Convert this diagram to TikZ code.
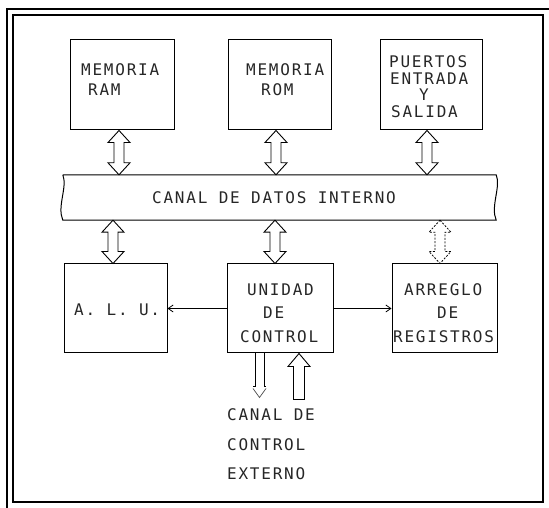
\documentclass[tikz,border=0pt]{standalone}
\usepackage{fontspec}
\newfontfamily\plotfont[LetterSpace=11]{DejaVu Sans Mono}
\usetikzlibrary{arrows.meta,calc}
\newcommand\dblarrow[3][]{%
  \draw[hollow,#1] let \p1=(#2), \p2=(#3) in
   (\x1,\y1) -- (\x1+11pt,\y1-12pt) -- (\x1+5pt,\y1-12pt) -- (\x1+5pt,\y2+12pt)
   -- (\x1+11pt,\y2+12pt) -- (\x1,\y2) -- (\x1-11pt,\y2+12pt) -- (\x1-5pt,\y2+12pt)
   -- (\x1-5pt,\y1-12pt) -- (\x1-11pt,\y1-12pt) -- cycle;}
\begin{document}
\begin{tikzpicture}[x=1pt,y=1pt,
  box/.style={draw,line width=1pt,inner sep=0pt},
  txt/.style={font=\plotfont\fontsize{16}{19}\selectfont,text=black!85,inner sep=0pt,anchor=base west},
  hollow/.style={line width=0.9pt,line join=miter},
  harrow/.style={line width=0.8pt,-{Straight Barb[length=5pt,width=7pt]}}]
\useasboundingbox (0,0) rectangle (549,508);
% frame
\draw[line width=1.3pt] (13,493) rectangle (543,6);
\draw[line width=2pt] (7,0) -- (7,499) -- (549,499);
% boxes
\node[box,minimum width=104pt,minimum height=90pt] (ram) at (122,423) {};
\node[box,minimum width=103pt,minimum height=90pt] (rom) at (279.5,423) {};
\node[box,minimum width=102pt,minimum height=90pt] (pio) at (431,423) {};
\node[minimum width=433pt,minimum height=45pt,inner sep=0pt] (bus) at (279.5,310.5) {};
\node[box,minimum width=103pt,minimum height=89pt] (alu) at (115.5,199.5) {};
\node[box,minimum width=106pt,minimum height=89pt] (uc) at (280,199.5) {};
\node[box,minimum width=105pt,minimum height=89pt] (reg) at (444.5,199.5) {};
% bus outline
\draw[line width=1pt] (bus.north west) -- (bus.north east)
  .. controls ([xshift=5pt,yshift=-12pt]bus.north east) and ([xshift=-6pt,yshift=14pt]bus.south east) .. (bus.south east)
  -- (bus.south west)
  .. controls ([xshift=-6pt,yshift=14pt]bus.south west) and ([xshift=5pt,yshift=-12pt]bus.north west) .. (bus.north west);
% texts
\node[txt] (t1) at (81,432) {MEMORIA};
\node[txt] (t2) at (88,412) {RAM};
\node[txt] (t3) at (246,432) {MEMORIA};
\node[txt] (t4) at (261,412) {ROM};
\node[txt] (t5) at (389,440) {PUERTOS};
\node[txt] (t6) at (390,423.5) {ENTRADA};
\node[txt] (t7) at (419,407) {Y};
\node[txt] (t8) at (391,390.5) {SALIDA};
\node[txt] (t9) at (152,304) {CANAL DE DATOS INTERNO};
\node[txt] (t10) at (74,192) {A. L. U.};
\node[txt] (t11) at (247,212) {UNIDAD};
\node[txt] (t12) at (263,189) {DE};
\node[txt] (t13) at (240,165) {CONTROL};
\node[txt] (t14) at (404,212) {ARREGLO};
\node[txt] (t15) at (437,189) {DE};
\node[txt] (t16) at (393,165) {REGISTROS};
\node[txt] (t17) at (227,87) {CANAL DE};
\node[txt] (t18) at (227,57) {CONTROL};
\node[txt] (t19) at (227,28) {EXTERNO};
% double arrows
\dblarrow{$(ram.south)+(-3,0)$}{bus.north}
\dblarrow{$(rom.south)+(-3.5,0)$}{bus.north}
\dblarrow{$(pio.south)+(-4,0)$}{bus.north}
\dblarrow{$(alu.north |- bus.south)+(-2.5,0)$}{alu.north}
\dblarrow{$(uc.north |- bus.south)+(-5,0)$}{uc.north}
\dblarrow[dash pattern=on 2pt off 1.5pt,line width=0.8pt]{$(reg.north |- bus.south)+(-4.5,0)$}{reg.north}
% horizontal arrows
\draw[harrow] (uc.west) -- (alu.east);
\draw[harrow] (uc.east) -- (reg.west);
% external control arrows
\draw[hollow] let \p1=($(uc.south)+(-20.5,0)$) in
  (\x1-4.5pt,\y1) -- (\x1-4.5pt,\y1-33pt) -- (\x1-6.5pt,\y1-33pt);
\draw[hollow] let \p1=($(uc.south)+(-20.5,0)$) in
  (\x1+4.5pt,\y1) -- (\x1+4.5pt,\y1-33pt) -- (\x1+6.5pt,\y1-33pt);
\draw[line width=0.7pt,black!70] let \p1=($(uc.south)+(-20.5,0)$) in
  (\x1-6.5pt,\y1-35pt) -- (\x1,\y1-44pt) -- (\x1+6.5pt,\y1-35pt);
\draw[hollow] let \p1=($(uc.south)+(19,0)$) in
  (\x1,\y1) -- (\x1+11pt,\y1-13pt) -- (\x1+5.5pt,\y1-13pt) -- (\x1+5.5pt,\y1-46pt)
  -- (\x1-5.5pt,\y1-46pt) -- (\x1-5.5pt,\y1-13pt) -- (\x1-11pt,\y1-13pt) -- cycle;
\end{tikzpicture}
\end{document}
